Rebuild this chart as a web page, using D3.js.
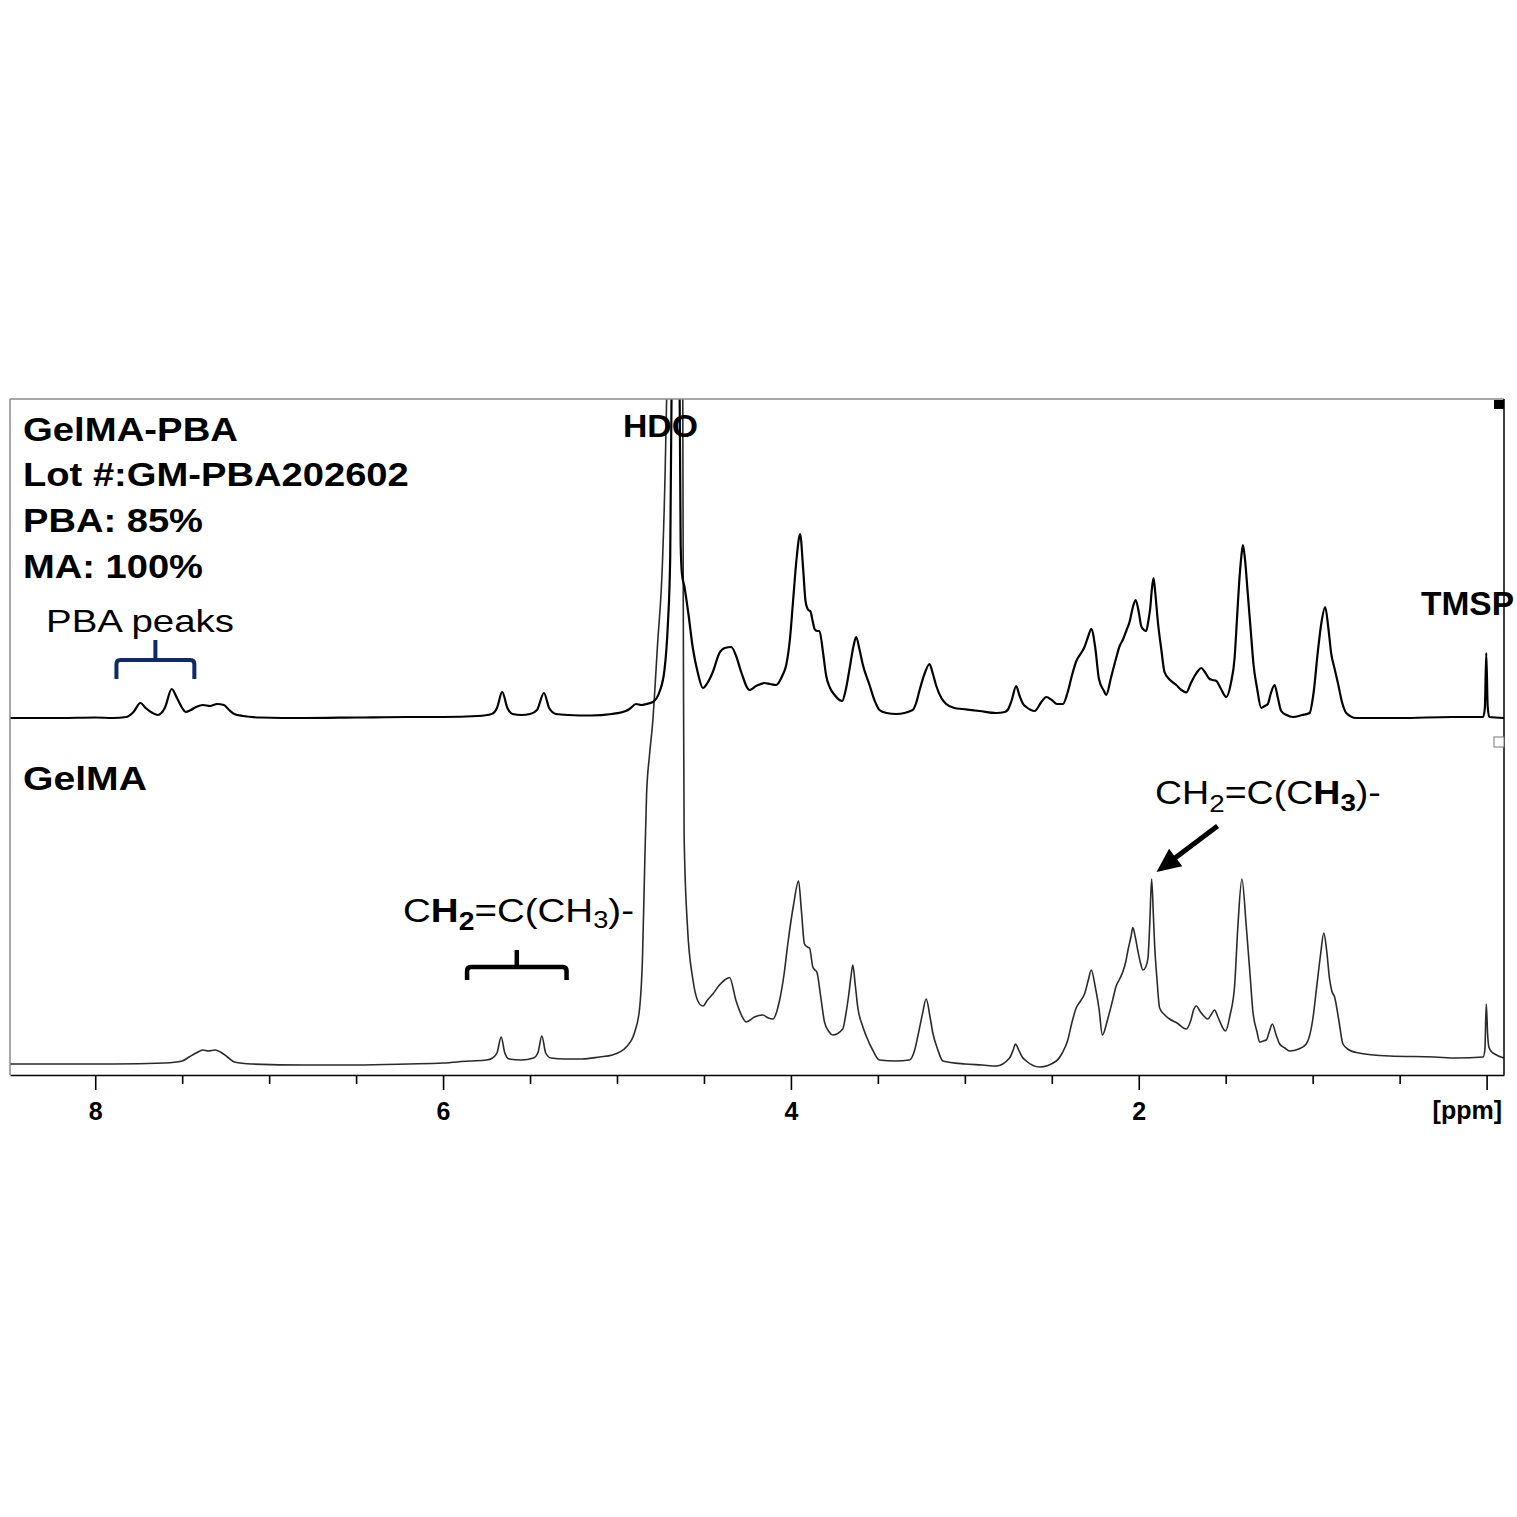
<!DOCTYPE html>
<html><head><meta charset="utf-8">
<script src="https://cdn.jsdelivr.net/npm/d3@7"></script>
<style>html,body{margin:0;padding:0;background:#fff;}svg{display:block;}</style>
</head><body><div id="chart"></div>
<script>
// ---------- DATA ----------
// [chemical shift (ppm), intensity (a.u.)]; the HDO solvent peak is off scale (clipped)
const gelmaPbaSpectrum = [
[8.49,0],[8.2,0],[8.0,0.5],[7.9,0],[7.82,1],[7.78,6],[7.74,15],[7.71,10],[7.67,5],[7.64,3],[7.6,10],[7.56,29],[7.53,20],[7.5,10],[7.48,6],[7.45,8],[7.42,11],[7.38,13],[7.34,12],[7.3,14],[7.26,13],[7.23,8],[7.2,4],[7.15,2],[7.05,0.5],[6.8,0],[6.5,0.5],[6.2,1],[6.0,1],[5.8,2],[5.72,4],[5.69,10],[5.66,26],[5.63,10],[5.6,4],[5.55,3],[5.5,4],[5.46,8],[5.42,25],[5.39,10],[5.35,4],[5.28,3],[5.15,2.5],[5.03,4],[4.95,7],[4.928,9],[4.89,14],[4.86,13],[4.832,14],[4.794,16],[4.756,26],[4.727,48],[4.708,92],[4.694,161],[4.686,330],[4.663,4000],[4.64,330],[4.634,175],[4.627,145],[4.612,131],[4.59,105],[4.564,70],[4.535,45],[4.506,30],[4.48,35],[4.449,46],[4.411,65],[4.38,70],[4.343,71],[4.315,62],[4.286,46],[4.238,28],[4.2,32],[4.152,35],[4.12,34],[4.085,33],[4.05,42],[4.027,53],[4.005,80],[3.989,114],[3.967,160],[3.947,184],[3.93,150],[3.916,117],[3.9,108],[3.889,107],[3.875,97],[3.864,89],[3.85,87],[3.836,87],[3.815,65],[3.797,42],[3.775,30],[3.749,23],[3.705,17],[3.685,28],[3.663,49],[3.64,72],[3.625,81],[3.605,68],[3.586,53],[3.548,33],[3.52,18],[3.491,8],[3.45,5],[3.394,4],[3.3,8],[3.28,15],[3.26,28],[3.23,45],[3.203,54],[3.185,45],[3.164,32],[3.135,20],[3.107,14],[3.06,10],[3.013,9],[2.915,7],[2.82,5],[2.77,6],[2.754,8],[2.73,18],[2.705,32],[2.685,22],[2.665,14],[2.647,11],[2.62,8],[2.599,7],[2.56,16],[2.532,21],[2.5,18],[2.47,14],[2.436,14],[2.41,25],[2.385,42],[2.359,57],[2.335,64],[2.312,71],[2.29,82],[2.273,89],[2.25,70],[2.229,39],[2.2,27],[2.187,23],[2.16,40],[2.13,60],[2.11,72],[2.092,78],[2.07,88],[2.053,96],[2.035,110],[2.018,118],[2.0,106],[1.986,92],[1.97,88],[1.957,87],[1.945,97],[1.934,110],[1.925,128],[1.915,140],[1.905,125],[1.89,96],[1.87,68],[1.852,46],[1.82,38],[1.784,33],[1.755,28],[1.727,25.5],[1.7,35],[1.679,42],[1.66,47],[1.641,50],[1.62,46],[1.593,39],[1.575,38],[1.554,37],[1.53,30],[1.497,21],[1.47,35],[1.449,60],[1.435,100],[1.424,132],[1.41,162],[1.401,173],[1.39,160],[1.373,124],[1.355,85],[1.34,53],[1.32,30],[1.296,10],[1.275,12],[1.258,14],[1.24,25],[1.219,33],[1.2,20],[1.181,7],[1.15,3],[1.114,1],[1.06,3],[1.018,5],[0.995,25],[0.97,67],[0.95,95],[0.928,111],[0.91,90],[0.893,64],[0.875,50],[0.855,35],[0.83,15],[0.807,5],[0.75,0],[0.5,0],[0.2,1],[0.02,1],[0.01,10],[0.002,65],[-0.006,12],[-0.015,1],[-0.1,0]
];
const gelmaSpectrum = [
[8.49,1],[8.2,1],[7.9,1],[7.6,2],[7.5,4],[7.46,8],[7.42,12],[7.38,15],[7.35,14],[7.31,15],[7.28,13],[7.24,8],[7.2,3],[7.1,1],[6.8,0],[6.5,0],[6.2,1],[6.0,2],[5.85,4],[5.75,5],[5.716,7],[5.69,12],[5.666,28],[5.645,12],[5.62,6],[5.55,5],[5.48,7],[5.455,12],[5.432,29],[5.41,12],[5.38,7],[5.3,6],[5.2,6],[5.1,8],[5.026,10],[4.947,18],[4.9,32],[4.871,55],[4.853,110],[4.842,190],[4.83,270],[4.813,310],[4.796,340],[4.767,420],[4.738,505],[4.72,620],[4.709,750],[4.662,6000],[4.623,750],[4.618,400],[4.614,229],[4.595,139],[4.564,86],[4.535,64],[4.506,59],[4.48,65],[4.449,71],[4.411,80],[4.38,85],[4.353,87.5],[4.315,64],[4.285,50],[4.257,43],[4.21,48],[4.162,50],[4.13,47],[4.104,46],[4.066,64],[4.04,90],[4.018,121],[3.985,160],[3.956,184],[3.94,155],[3.922,121],[3.905,118],[3.893,117],[3.874,98],[3.862,95],[3.851,93],[3.83,70],[3.807,43],[3.78,33],[3.759,30],[3.702,36],[3.685,50],[3.667,71],[3.655,88],[3.644,100],[3.63,80],[3.615,57],[3.59,40],[3.567,29],[3.53,15],[3.491,5],[3.4,4],[3.318,5],[3.29,14],[3.27,29],[3.245,50],[3.222,66],[3.2,48],[3.184,32],[3.155,15],[3.126,4],[3.0,1],[2.9,0],[2.82,-1],[2.743,7],[2.72,16],[2.709,21],[2.69,15],[2.67,8],[2.647,4],[2.57,-2],[2.474,4],[2.44,12],[2.408,25],[2.385,42],[2.36,57],[2.335,64],[2.312,71],[2.29,85],[2.273,95],[2.25,78],[2.229,57],[2.209,30],[2.18,45],[2.15,65],[2.13,79],[2.11,86],[2.092,93],[2.075,103],[2.063,114],[2.045,128],[2.034,137.5],[2.02,128],[2.005,114],[1.99,102],[1.976,95],[1.96,98],[1.947,107],[1.937,140],[1.926,186],[1.916,150],[1.909,121],[1.895,85],[1.88,57],[1.85,50],[1.823,46],[1.78,42],[1.727,36],[1.7,45],[1.685,55],[1.669,59],[1.645,53],[1.62,48],[1.603,46],[1.585,50],[1.564,55],[1.545,48],[1.501,34],[1.475,50],[1.449,79],[1.43,139],[1.407,186],[1.382,139],[1.36,90],[1.344,54],[1.32,33],[1.305,23],[1.285,24],[1.267,25],[1.25,33],[1.232,41],[1.21,30],[1.19,21],[1.16,17],[1.133,14],[1.08,16],[1.037,21],[1.0,45],[0.979,75],[0.955,110],[0.936,132],[0.92,115],[0.903,86],[0.89,74],[0.874,68],[0.85,45],[0.826,21],[0.79,15],[0.749,12.5],[0.558,9],[0.3,8],[0.174,7],[0.02,8],[0.01,15],[0.002,61],[-0.006,30],[-0.013,18],[-0.03,13],[-0.046,11],[-0.1,7]
];
const majorTicks = [8, 6, 4, 2, 0];
const majorTickLabels = ["8", "6", "4", "2", ""];
const minorTicks = [7.5, 7, 6.5, 5.5, 5, 4.5, 3.5, 3, 2.5, 1.5, 1, 0.5];
const axisUnit = "[ppm]";
const sampleInfo = ["GelMA-PBA", "Lot #:GM-PBA202602", "PBA: 85%", "MA: 100%"];
const lowerTraceName = "GelMA";
const peakLabels = ["HDO", "TMSP", "PBA peaks"];

// ---------- LAYOUT ----------
const W = 1517, H = 1517;
const L = 10, R = 1504, T = 399, B = 1075;
const FONT = "'Liberation Sans', Arial, Helvetica, sans-serif";

const svg = d3.select("#chart").append("svg").attr("width", W).attr("height", H)
  .style("background", "#fff");

const x = d3.scaleLinear().domain([8.49, -0.1]).range([L, R]);
const yUpper = d3.scaleLinear().domain([0, 300]).range([718, 418]);
const yLower = d3.scaleLinear().domain([0, 300]).range([1065, 765]);

svg.append("clipPath").attr("id", "plotclip").append("rect")
  .attr("x", L).attr("y", T).attr("width", R - L).attr("height", B - T);

const plot = svg.append("g").attr("clip-path", "url(#plotclip)");

const lineUpper = d3.line().x(d => x(d[0])).y(d => yUpper(d[1])).curve(d3.curveMonotoneX);
const lineLower = d3.line().x(d => x(d[0])).y(d => yLower(d[1])).curve(d3.curveMonotoneX);

plot.append("path").datum(gelmaSpectrum).attr("d", lineLower)
  .attr("fill", "none").attr("stroke", "#2a2a2a").attr("stroke-width", 1.6).attr("stroke-linejoin", "round");
plot.append("path").datum(gelmaPbaSpectrum).attr("d", lineUpper)
  .attr("fill", "none").attr("stroke", "#000").attr("stroke-width", 2.2).attr("stroke-linejoin", "round");

// frame
svg.append("line").attr("x1", L).attr("x2", R).attr("y1", T).attr("y2", T).attr("stroke", "#8a8a8a").attr("stroke-width", 1.5);
svg.append("line").attr("x1", L).attr("x2", L).attr("y1", T).attr("y2", B).attr("stroke", "#8a8a8a").attr("stroke-width", 1.5);
svg.append("line").attr("x1", R).attr("x2", R).attr("y1", T).attr("y2", B).attr("stroke", "#000").attr("stroke-width", 1.5);
// TopSpin markers
svg.append("rect").attr("x", R - 10).attr("y", T + 1).attr("width", 10).attr("height", 9).attr("fill", "#000");
svg.append("rect").attr("x", R - 10).attr("y", 737).attr("width", 10).attr("height", 10).attr("fill", "#fff").attr("stroke", "#777").attr("stroke-width", 1);

// axes
const gMinor = svg.append("g").attr("transform", `translate(0,${B})`)
  .call(d3.axisBottom(x).tickValues(minorTicks).tickSize(9).tickSizeOuter(0).tickFormat(""));
gMinor.select(".domain").remove();
gMinor.selectAll(".tick line").attr("stroke", "#000").attr("stroke-width", 1.6);

const gMajor = svg.append("g").attr("transform", `translate(0,${B})`)
  .call(d3.axisBottom(x).tickValues(majorTicks).tickSize(15).tickSizeOuter(0).tickPadding(12)
    .tickFormat((d, i) => majorTickLabels[i]));
gMajor.select(".domain").attr("stroke", "#000").attr("stroke-width", 1.6);
gMajor.selectAll(".tick line").attr("stroke", "#000").attr("stroke-width", 1.6);
gMajor.selectAll(".tick text").attr("font-family", FONT).attr("font-size", 25)
  .attr("font-weight", "bold").attr("fill", "#000");
svg.append("text").attr("x", 1502).attr("y", 1119).attr("text-anchor", "end")
  .attr("font-family", FONT).attr("font-size", 25).attr("font-weight", "bold").text(axisUnit);

// labels: parts = [{t, b, s, dy}]
function addLabel(parts, px, py, size, target, fill) {
  const t = svg.append("text").attr("font-family", FONT).attr("font-size", size)
    .attr("fill", fill || "#000").attr("x", 0).attr("y", 0);
  parts.forEach(p => {
    t.append("tspan").text(p.t).attr("font-weight", p.b ? "bold" : "normal")
      .attr("font-size", p.s || size).attr("dy", p.dy || 0);
  });
  let sx = 1;
  if (target) {
    const w = t.node().getComputedTextLength();
    if (w > 0) sx = target / w;
  }
  t.attr("transform", `translate(${px},${py}) scale(${sx},1)`);
  return t;
}

const infoBase = [441, 486, 532, 578];
const infoWidth = [215, 386, 180, 180];
sampleInfo.forEach((s, i) => addLabel([{ t: s, b: true }], 23, infoBase[i], 34, infoWidth[i]));
addLabel([{ t: lowerTraceName, b: true }], 23, 790, 34, 124);
addLabel([{ t: peakLabels[2] }], 46, 632, 31, 188);
addLabel([{ t: peakLabels[0], b: true }], 623, 437, 32, 75);
addLabel([{ t: peakLabels[1], b: true }], 1421, 615, 32.5, 93);

// methacrylate annotations
addLabel([
  { t: "C" }, { t: "H", b: true }, { t: "2", b: true, s: 25, dy: 8 },
  { t: "=C(CH", dy: -8 }, { t: "3", s: 24, dy: 6 }, { t: ")-", dy: -6 }
], 403, 922, 34, 231);
addLabel([
  { t: "CH" }, { t: "2", s: 24, dy: 8 }, { t: "=C(C", dy: -8 },
  { t: "H", b: true }, { t: "3", b: true, s: 24, dy: 7 }, { t: ")-", dy: -7 }
], 1155, 804, 32.5, 226);

// brackets
function bracket(ppmL, ppmR, yTop, yEnd, yStub, color, sw) {
  const xl = x(ppmL), xr = x(ppmR), xm = (xl + xr) / 2, r = 4;
  const d = `M${xl},${yEnd} V${yTop + r} Q${xl},${yTop} ${xl + r},${yTop} H${xr - r} Q${xr},${yTop} ${xr},${yTop + r} V${yEnd}` +
    ` M${xm},${yTop} V${yStub}`;
  svg.append("path").attr("d", d).attr("fill", "none").attr("stroke", color).attr("stroke-width", sw);
}
bracket(7.878, 7.43, 660, 679, 640, "#0f2a66", 4);
bracket(5.862, 5.29, 967, 980, 950, "#000", 4.5);

// arrow pointing to methacrylate CH3 peak
(function () {
  const x0 = x(1.547), y0 = 826, x1 = x(1.898), y1 = 872;
  const dx = x1 - x0, dy = y1 - y0, len = Math.hypot(dx, dy), ux = dx / len, uy = dy / len;
  const hl = 24, hw = 11;
  const bx = x1 - ux * hl, by = y1 - uy * hl;
  svg.append("line").attr("x1", x0).attr("y1", y0).attr("x2", bx + ux * 2).attr("y2", by + uy * 2)
    .attr("stroke", "#000").attr("stroke-width", 5);
  svg.append("polygon").attr("points",
    `${x1},${y1} ${bx - uy * hw},${by + ux * hw} ${bx + uy * hw},${by - ux * hw}`).attr("fill", "#000");
})();
</script>
</body></html>
